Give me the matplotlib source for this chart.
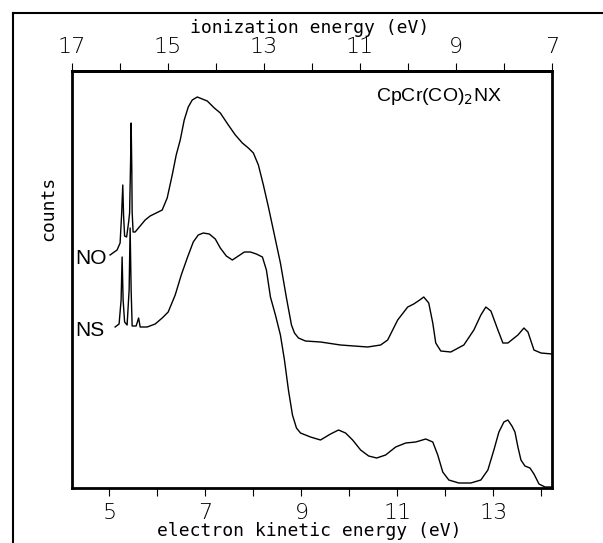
import matplotlib.pyplot as plt
from matplotlib.lines import Line2D

# He I photon energy links the two energy scales
HE_I = 21.22

# NO compound trace: kinetic energy (eV) and counts (arb.)
no_ke = [5.013, 5.159, 5.222, 5.253, 5.278, 5.294, 5.316, 5.358, 5.400, 5.420,
         5.441, 5.452, 5.466, 5.473, 5.493, 5.535, 5.640, 5.744, 5.848, 5.974,
         6.099, 6.203, 6.308, 6.391, 6.475, 6.558, 6.642, 6.725, 6.830, 6.934,
         7.038, 7.185, 7.310, 7.477, 7.623, 7.769, 7.894, 7.999, 8.103, 8.207,
         8.312, 8.437, 8.562, 8.688, 8.792, 8.855, 8.938, 9.084, 9.397, 9.815,
         10.379, 10.650, 10.796, 11.005, 11.214, 11.339, 11.464, 11.548, 11.652, 11.736,
         11.798, 11.903, 12.111, 12.383, 12.592, 12.738, 12.842, 12.947, 13.093, 13.197,
         13.301, 13.510, 13.635, 13.719, 13.844, 13.990, 14.220]
no_counts = [233, 238, 245, 273, 303, 273, 252, 251, 266, 275,
             328, 365, 318, 276, 256, 256, 262, 268, 272, 275,
             278, 290, 313, 333, 348, 368, 381, 388, 391, 389,
             387, 380, 375, 363, 353, 345, 340, 335, 323, 303,
             281, 253, 225, 190, 163, 155, 150, 147, 146, 143,
             141, 143, 148, 168, 181, 184, 188, 191, 185, 165,
             145, 137, 136, 143, 158, 173, 181, 177, 158, 145,
             145, 153, 160, 156, 138, 135, 134]

# NS compound trace
ns_ke = [5.118, 5.201, 5.243, 5.264, 5.285, 5.316, 5.368, 5.410, 5.431, 5.452,
         5.473, 5.556, 5.608, 5.640, 5.786, 5.953, 6.099, 6.224, 6.370, 6.496,
         6.621, 6.746, 6.850, 6.955, 7.080, 7.205, 7.310, 7.435, 7.560, 7.686,
         7.811, 7.936, 8.061, 8.187, 8.270, 8.354, 8.458, 8.562, 8.646, 8.729,
         8.813, 8.896, 8.980, 9.189, 9.397, 9.606, 9.773, 9.919, 10.066, 10.233,
         10.400, 10.567, 10.754, 10.963, 11.172, 11.381, 11.590, 11.736, 11.840, 11.944,
         12.070, 12.278, 12.529, 12.738, 12.884, 13.009, 13.114, 13.218, 13.301, 13.385,
         13.448, 13.510, 13.573, 13.656, 13.761, 13.844, 13.949, 14.074, 14.220]
ns_counts = [161, 164, 188, 231, 188, 166, 163, 198, 260, 198,
             162, 162, 170, 161, 161, 164, 170, 176, 193, 213,
             230, 246, 253, 255, 254, 249, 240, 232, 228, 232,
             236, 236, 234, 231, 218, 191, 173, 153, 128, 98,
             73, 60, 55, 51, 48, 54, 58, 55, 48, 38,
             32, 30, 33, 41, 45, 46, 49, 46, 33, 16,
             8, 5, 5, 8, 18, 38, 56, 66, 68, 62,
             56, 41, 28, 22, 20, 14, 4, 1, 1]

ke_major = [5, 7, 9, 11, 13]
ke_minor = [6, 8, 10, 12, 14]
ie_major = [17, 15, 13, 11, 9, 7]
ie_minor = [16, 14, 12, 10, 8]

W, H = 603, 543
fig = plt.figure(figsize=(W / 100, H / 100), dpi=100)
ax = fig.add_axes([72 / W, 1 - 488 / H, 480 / W, 417 / H])

ax.plot(no_ke, no_counts, color='black', lw=1.0)
ax.plot(ns_ke, ns_counts, color='black', lw=1.0)

ax.set_xlim(HE_I - 17, HE_I - 7)
ax.set_ylim(0, 417)
ax.set_yticks([])
for s in ax.spines.values():
    s.set_linewidth(2.0)

tick_font = dict(family='DejaVu Sans', weight='light', size=16)

ax.set_xticks(ke_major)
ax.set_xticks(ke_minor, minor=True)
ax.tick_params(axis='x', which='both', direction='out', length=6, width=0.8, pad=5)
for lab in ax.get_xticklabels():
    lab.set(**tick_font)

top = ax.secondary_xaxis('top', functions=(lambda k: HE_I - k, lambda e: HE_I - e))
top.set_xticks(ie_major)
top.set_xticks(ie_minor, minor=True)
top.tick_params(axis='x', which='both', direction='out', length=6, width=0.8, pad=4)
for lab in top.get_xticklabels():
    lab.set(**tick_font)
top.spines['top'].set_linewidth(2.0)

mono = 'DejaVu Sans Mono'
fig.text(310 / W, 1 - 28 / H, 'ionization energy (eV)', ha='center', va='center',
         family=mono, fontsize=13)
fig.text(309 / W, 1 - 531 / H, 'electron kinetic energy (eV)', ha='center', va='center',
         family=mono, fontsize=13)
fig.text(48 / W, 1 - 208 / H, 'counts', ha='center', va='center', rotation=90,
         family=mono, fontsize=13)

fig.text(91 / W, 1 - 258 / H, 'NO', ha='center', va='center',
         family='Liberation Sans', fontsize=15)
fig.text(90 / W, 1 - 330 / H, 'NS', ha='center', va='center',
         family='Liberation Sans', fontsize=15)
fig.text(502 / W, 1 - 101 / H, r'CpCr(CO)$_2$NX', ha='right', va='baseline',
         family='Liberation Sans', fontsize=14)

# outer frame of the scanned figure
fig.add_artist(Line2D([13 / W, 13 / W], [0, 1 - 13 / H], transform=fig.transFigure,
                      color='black', lw=1.5))
fig.add_artist(Line2D([13 / W, 1], [1 - 13 / H, 1 - 13 / H], transform=fig.transFigure,
                      color='black', lw=1.5))

fig.savefig('out.png', dpi=100)
